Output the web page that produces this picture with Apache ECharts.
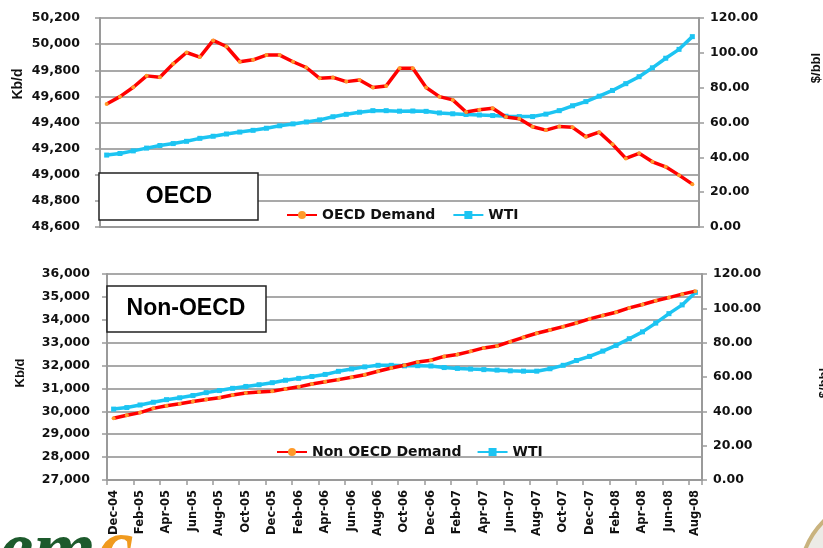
<!DOCTYPE html>
<html>
<head>
<meta charset="utf-8">
<script src="https://cdn.jsdelivr.net/npm/echarts@6/dist/echarts.min.js"></script>
<style>
  html, body { margin: 0; padding: 0; background: #fff; }
  #chart { width: 823px; height: 548px; }
</style>
</head>
<body>
<div id="chart"></div>
<script>
// months, Dec-04 .. Aug-08
const months = [
  'Dec-04',
  'Jan-05', 'Feb-05', 'Mar-05', 'Apr-05', 'May-05', 'Jun-05', 'Jul-05', 'Aug-05', 'Sep-05', 'Oct-05', 'Nov-05', 'Dec-05',
  'Jan-06', 'Feb-06', 'Mar-06', 'Apr-06', 'May-06', 'Jun-06', 'Jul-06', 'Aug-06', 'Sep-06', 'Oct-06', 'Nov-06', 'Dec-06',
  'Jan-07', 'Feb-07', 'Mar-07', 'Apr-07', 'May-07', 'Jun-07', 'Jul-07', 'Aug-07', 'Sep-07', 'Oct-07', 'Nov-07', 'Dec-07',
  'Jan-08', 'Feb-08', 'Mar-08', 'Apr-08', 'May-08', 'Jun-08', 'Jul-08', 'Aug-08'
]

// OECD demand, Kb/d
const oecdDemand = [
  49542, 49598, 49670, 49757, 49747, 49849, 49936, 49901, 50028, 49982, 49865, 49880, 49916,
  49916, 49865, 49821, 49738, 49745, 49713, 49726, 49668, 49680, 49815, 49815, 49668,
  49598, 49573, 49480, 49498, 49509, 49442, 49428, 49368, 49342, 49370, 49363, 49291,
  49326, 49234, 49125, 49164, 49099, 49061, 48997, 48928
]

// Non OECD demand, Kb/d
const nonOecdDemand = [
  29700, 29830, 29945, 30130, 30240, 30330, 30430, 30520, 30590, 30710, 30800, 30840, 30875,
  30980, 31070, 31195, 31290, 31385, 31490, 31600, 31750, 31890, 32010, 32160, 32230,
  32400, 32480, 32620, 32770, 32855, 33045, 33235, 33410, 33555, 33700, 33860, 34040,
  34190, 34330, 34520, 34670, 34830, 34970, 35120, 35250
]

// WTI, $/bbl
const wti = [
  41.3, 42.2, 43.7, 45.3, 46.8, 47.9, 49.2, 50.9, 52.1, 53.4, 54.5, 55.5, 56.7,
  58.1, 59.2, 60.3, 61.5, 63.3, 64.7, 65.9, 66.8, 66.8, 66.5, 66.6, 66.4,
  65.5, 65.0, 64.6, 64.3, 64.0, 63.6, 63.4, 63.4, 64.8, 66.8, 69.6, 72.0,
  75.1, 78.4, 82.3, 86.3, 91.4, 96.9, 102.0, 109.3
]

const RED = '#ff0000'
const ORANGE = '#ff9a2a'
const CYAN = '#1cc4f2'
const GRID_GREY = '#8c8c8c'
const AXIS_GREY = '#9a9a9a'
const LABEL_FONT = 'DejaVu Sans'

function thousands(v) {
  return String(v).replace(/\B(?=(\d{3})+(?!\d))/g, ',')
}

function leftAxis(gridIndex, min, max, interval, margin) {
  return {
    type: 'value',
    gridIndex: gridIndex,
    position: 'left',
    min: min,
    max: max,
    interval: interval,
    axisLine: { show: true, lineStyle: { color: AXIS_GREY, width: 2 } },
    axisTick: { show: true, length: 5, lineStyle: { color: AXIS_GREY, width: 1.5 } },
    axisLabel: {
      margin: margin,
      color: '#111',
      fontFamily: LABEL_FONT,
      fontWeight: 'bold',
      fontSize: 12.5,
      formatter: thousands
    },
    splitLine: { show: true, lineStyle: { color: GRID_GREY, width: 1.5 } }
  }
}

function rightAxis(gridIndex) {
  return {
    type: 'value',
    gridIndex: gridIndex,
    position: 'right',
    min: 0,
    max: 120,
    interval: 20,
    axisLine: { show: true, lineStyle: { color: AXIS_GREY, width: 2 } },
    axisTick: { show: true, length: 5, lineStyle: { color: AXIS_GREY, width: 1.5 } },
    axisLabel: {
      margin: 11,
      color: '#111',
      fontFamily: LABEL_FONT,
      fontWeight: 'bold',
      fontSize: 12.5,
      formatter: (v) => v.toFixed(2)
    },
    splitLine: { show: false }
  }
}

function demandSeries(name, data, axisIdx) {
  return {
    name: name,
    type: 'line',
    xAxisIndex: axisIdx,
    yAxisIndex: axisIdx * 2,
    data: data,
    color: RED,
    symbol: 'circle',
    symbolSize: 4,
    showAllSymbol: true,
    itemStyle: { color: ORANGE },
    lineStyle: { color: RED, width: 3.5 },
    z: 4
  }
}

function wtiSeries(axisIdx) {
  return {
    name: 'WTI',
    type: 'line',
    xAxisIndex: axisIdx,
    yAxisIndex: axisIdx * 2 + 1,
    data: wti,
    color: CYAN,
    symbol: 'rect',
    symbolSize: 5,
    showAllSymbol: true,
    itemStyle: { color: CYAN },
    lineStyle: { color: CYAN, width: 3.5 },
    z: 3
  }
}

const legendText = {
  color: '#111',
  fontFamily: LABEL_FONT,
  fontWeight: 'bold',
  fontSize: 14
}

let myChart = echarts.init(document.getElementById('chart'))

let option = {
  animation: false,
  backgroundColor: '#fff',
  grid: [
    { left: 100, top: 18, width: 599, height: 209, outerBoundsMode: 'none' },
    { left: 107, top: 274, width: 595, height: 206, outerBoundsMode: 'none' }
  ],
  legend: [
    {
      data: ['OECD Demand', 'WTI'],
      left: 281,
      top: 203,
      itemWidth: 30,
      itemHeight: 10,
      itemGap: 17,
      textStyle: legendText
    },
    {
      data: ['Non OECD Demand', 'WTI'],
      left: 271,
      top: 440,
      itemWidth: 30,
      itemHeight: 10,
      itemGap: 15,
      textStyle: legendText
    }
  ],
  xAxis: [
    {
      type: 'category',
      gridIndex: 0,
      data: months,
      boundaryGap: true,
      axisLine: { show: true, lineStyle: { color: AXIS_GREY, width: 2 } },
      axisTick: { show: false },
      axisLabel: { show: false },
      splitLine: { show: false }
    },
    {
      type: 'category',
      gridIndex: 1,
      data: months,
      boundaryGap: true,
      axisLine: { show: true, lineStyle: { color: AXIS_GREY, width: 2 } },
      axisTick: { show: true, interval: 1, length: 5, lineStyle: { color: AXIS_GREY, width: 1.5 } },
      axisLabel: {
        interval: 1,
        rotate: 90,
        margin: 10,
        color: '#111',
        fontFamily: LABEL_FONT,
        fontWeight: 'bold',
        fontSize: 11.5
      },
      splitLine: { show: false }
    }
  ],
  yAxis: [
    leftAxis(0, 48600, 50200, 200, 20),
    rightAxis(0),
    leftAxis(1, 27000, 36000, 1000, 17),
    rightAxis(1)
  ],
  series: [
    demandSeries('OECD Demand', oecdDemand, 0),
    wtiSeries(0),
    demandSeries('Non OECD Demand', nonOecdDemand, 1),
    wtiSeries(1)
  ],
  graphic: [
    // region boxes
    {
      type: 'rect', z: 100,
      shape: { x: 99, y: 173, width: 159, height: 47 },
      style: { fill: '#fff', stroke: '#222', lineWidth: 1.5 }
    },
    {
      type: 'text', z: 101, x: 179, y: 197,
      style: { text: 'OECD', fontFamily: 'Liberation Sans', fontWeight: 'bold', fontSize: 23, fill: '#000', align: 'center', verticalAlign: 'middle' }
    },
    {
      type: 'rect', z: 100,
      shape: { x: 107, y: 286, width: 159, height: 46 },
      style: { fill: '#fff', stroke: '#222', lineWidth: 1.5 }
    },
    {
      type: 'text', z: 101, x: 186, y: 309,
      style: { text: 'Non-OECD', fontFamily: 'Liberation Sans', fontWeight: 'bold', fontSize: 23, fill: '#000', align: 'center', verticalAlign: 'middle' }
    },
    // axis names
    {
      type: 'text', x: 18, y: 84, rotation: Math.PI / 2,
      style: { text: 'Kb/d', fontFamily: 'Liberation Sans', fontWeight: 'bold', fontSize: 14, fill: '#111', align: 'center', verticalAlign: 'middle' }
    },
    {
      type: 'text', x: 20, y: 373, rotation: Math.PI / 2,
      style: { text: 'Kb/d', fontFamily: 'Liberation Sans', fontWeight: 'bold', fontSize: 13, fill: '#111', align: 'center', verticalAlign: 'middle' }
    },
    {
      type: 'text', x: 816, y: 68, rotation: Math.PI / 2,
      style: { text: '$/bbl', fontFamily: 'Liberation Sans', fontWeight: 'bold', fontSize: 13, fill: '#111', align: 'center', verticalAlign: 'middle' }
    },
    {
      type: 'text', x: 824, y: 383, rotation: Math.PI / 2,
      style: { text: '$/bbl', fontFamily: 'Liberation Sans', fontWeight: 'bold', fontSize: 13, fill: '#111', align: 'center', verticalAlign: 'middle' }
    },
    // logo remnants at the bottom corners
    {
      type: 'text', x: -2, y: 554,
      style: { text: 'em', fontFamily: 'Liberation Serif', fontStyle: 'italic', fontWeight: 'bold', fontSize: 80, fill: '#1d5a2c', align: 'left', verticalAlign: 'middle' }
    },
    {
      type: 'text', x: 98, y: 552,
      style: { text: 'c', fontFamily: 'Liberation Serif', fontStyle: 'italic', fontWeight: 'bold', fontSize: 80, fill: '#f09a1e', align: 'left', verticalAlign: 'middle' }
    },
    {
      type: 'circle',
      shape: { cx: 880, cy: 578, r: 80 },
      style: { fill: '#ecebe6', stroke: '#c9b37e', lineWidth: 4 }
    }
  ]
}

myChart.setOption(option)
</script>
</body>
</html>
